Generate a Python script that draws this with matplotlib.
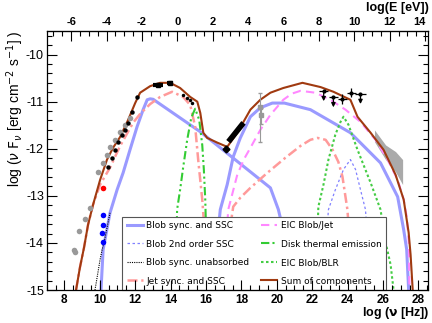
import numpy as np
import matplotlib
matplotlib.use('Agg')
import matplotlib.pyplot as plt
from matplotlib.ticker import MultipleLocator, FixedLocator, FuncFormatter

plt.rcParams['axes.unicode_minus'] = False

# model curves: log nu [Hz] vs log nuFnu [erg cm-2 s-1]
blob_sync_x = [10.07, 10.19, 10.58, 10.98, 11.32, 11.71, 12.11, 12.45, 12.68, 12.85, 13.02, 13.13, 15.68, 18.51, 19.64, 20.09, 20.49, 20.77]
blob_sync_y = [-15.0, -14.14, -13.36, -12.87, -12.51, -12.02, -11.53, -11.17, -10.96, -10.94, -10.95, -10.98, -11.64, -12.49, -12.83, -13.29, -13.93, -15.0]
blob_ssc_x = [16.36, 16.81, 17.20, 17.54, 17.94, 18.51, 19.07, 19.75, 20.43, 21.90, 24.16, 25.86, 26.83, 27.17, 27.34, 27.45]
blob_ssc_y = [-15.0, -13.29, -12.76, -12.17, -11.77, -11.32, -11.13, -11.03, -11.03, -11.17, -11.66, -12.30, -13.02, -13.72, -14.14, -15.0]
ssc2_x = [22.58, 22.92, 23.31, 23.77, 24.16, 24.45, 24.73, 25.01, 25.18, 25.30]
ssc2_y = [-15.0, -13.29, -12.87, -12.44, -12.23, -12.44, -12.87, -13.29, -14.14, -15.0]
unabs_x = [9.73, 9.90, 10.02, 10.13, 10.24, 10.58]
unabs_y = [-15.0, -14.62, -14.35, -14.15, -14.0, -13.36]
jet_sync_x = [8.66, 8.88, 9.11, 9.34, 9.62, 10.02, 10.58, 11.15, 11.88, 12.28, 12.85, 13.41, 14.09, 14.71, 15.11, 15.39, 15.56, 15.79, 15.96, 16.13]
jet_sync_y = [-15.0, -14.52, -14.10, -13.61, -13.19, -12.76, -12.40, -11.94, -11.45, -11.26, -11.05, -10.90, -10.79, -10.90, -11.07, -11.53, -12.23, -13.08, -13.93, -15.0]
jet_ssc_x = [16.81, 17.10, 17.54, 17.94, 18.51, 19.47, 20.49, 21.34, 21.90, 22.30, 22.76, 23.15, 23.48, 23.71, 23.99, 24.16, 24.27]
jet_ssc_y = [-15.0, -14.35, -13.23, -13.04, -12.83, -12.51, -12.19, -11.94, -11.81, -11.77, -11.81, -12.02, -12.28, -12.59, -13.29, -14.14, -15.0]
eic_jet_x = [16.93, 17.26, 17.77, 18.15, 18.51, 19.07, 19.64, 20.37, 20.85, 21.34, 22.18, 23.03, 23.88, 24.73, 25.58, 26.26, 26.83, 27.17, 27.34, 27.45, 27.50]
eic_jet_y = [-15.0, -13.29, -12.55, -12.22, -11.98, -11.60, -11.28, -10.96, -10.83, -10.77, -10.81, -10.96, -11.17, -11.43, -11.81, -12.23, -12.66, -13.08, -13.44, -13.93, -15.0]
disk_x = [14.26, 14.37, 14.54, 14.71, 14.94, 15.17, 15.39, 15.62, 15.79, 15.88, 15.96, 16.02, 16.07]
disk_y = [-15.0, -13.29, -12.87, -12.40, -11.81, -11.34, -11.15, -11.39, -11.92, -12.44, -13.08, -13.93, -15.0]
blr_x = [22.19, 22.35, 22.64, 22.92, 23.31, 23.60, 23.77, 24.05, 24.56, 25.30, 25.86, 26.15, 26.43, 26.60]
blr_y = [-15.0, -13.23, -12.76, -12.23, -11.70, -11.43, -11.32, -11.49, -12.02, -12.72, -13.29, -13.99, -14.46, -15.0]
sum_x = [8.66, 8.88, 9.11, 9.34, 9.62, 10.02, 10.41, 10.75, 11.15, 11.60, 12.0, 12.28, 12.85, 13.41, 13.98, 14.54, 15.11, 15.51, 15.68, 15.85, 16.07, 16.64, 17.20, 17.77, 18.51, 19.07, 19.64, 20.37, 21.45, 22.47, 23.20, 24.16, 24.56, 25.30, 26.03, 26.71, 27.17, 27.45, 27.56, 27.68]
sum_y = [-15.0, -14.52, -14.10, -13.61, -13.19, -12.66, -12.23, -11.98, -11.75, -11.39, -11.03, -10.81, -10.67, -10.60, -10.60, -10.71, -10.90, -11.00, -11.24, -11.66, -11.77, -11.87, -11.96, -11.66, -11.17, -10.96, -10.81, -10.71, -10.60, -10.69, -10.79, -10.96, -11.32, -11.66, -12.02, -12.55, -13.08, -13.78, -14.25, -15.0]

# data points
arch_x = [8.55, 8.60, 8.83, 9.17, 9.45, 9.90, 10.19, 10.41, 10.58, 10.87, 11.15, 11.44, 11.70]
arch_y = [-14.14, -14.20, -13.74, -13.50, -13.25, -12.49, -12.30, -12.13, -11.96, -11.81, -11.64, -11.49, -11.35]
ir_x = [10.47, 10.70, 10.87, 11.04, 11.26, 11.44, 11.60, 11.83, 12.11]
ir_y = [-12.38, -12.19, -12.02, -11.85, -11.70, -11.60, -11.45, -11.22, -10.90]
opt_x = [13.30, 13.95]
opt_y = [-10.64, -10.61]
opt_xerr = [0.28, 0.16]
uv_x = [14.71, 14.94, 15.11, 15.22]
uv_y = [-10.86, -10.92, -10.96, -11.03]
radio_red_x, radio_red_y = [10.19], [-12.83]
radio_blue_x = [10.19, 10.19, 10.13, 10.19]
radio_blue_y = [-13.40, -13.61, -13.78, -13.97]
xray_x = [17.27, 18.12]
xray_y = [-11.85, -11.45]
xray_pt_x, xray_pt_y = [17.15], [-12.0]
hx_x = [19.07, 19.12]
hx_y = [-11.11, -11.28]
hx_lo = [0.74, 0.2]
hx_hi = [0.30, 0.15]
bow_x = [25.52, 26.15, 26.71, 27.11]
bow_hi = [-11.60, -11.92, -12.06, -12.23]
bow_lo = [-11.85, -12.23, -12.49, -12.76]
gam_x = [22.65, 23.20, 23.71, 24.22, 24.73]
gam_y = [-10.77, -10.90, -10.94, -10.81, -10.83]
gam_xerr = [0.25, 0.25, 0.25, 0.25, 0.30]
gam_ul = [True, True, False, False, True]

# tick values
nu_ticks = [8, 10, 12, 14, 16, 18, 20, 22, 24, 26, 28]
e_ticks = [-6, -4, -2, 0, 2, 4, 6, 8, 10, 12, 14]
f_ticks = [-15, -14, -13, -12, -11, -10]

fig = plt.figure(figsize=(4.32, 3.23), dpi=100)
ax = fig.add_axes([0.108, 0.102, 0.883, 0.802])

blue = '#9a9aff'
c1, = ax.plot(blob_sync_x, blob_sync_y, color=blue, lw=2.2, label='Blob sync. and SSC')
ax.plot(blob_ssc_x, blob_ssc_y, color=blue, lw=2.2)
c2, = ax.plot(ssc2_x, ssc2_y, color='#8080ff', lw=0.9, ls=(0, (2, 2)), label='Blob 2nd order SSC')
c3, = ax.plot(unabs_x, unabs_y, color='black', lw=0.8, ls=(0, (1, 1)), label='Blob sync. unabsorbed')
c4, = ax.plot(jet_sync_x, jet_sync_y, color='#ff9a9a', lw=1.8, ls=(0, (4, 1.5, 1, 1.5)), label='Jet sync. and SSC')
ax.plot(jet_ssc_x, jet_ssc_y, color='#ff9a9a', lw=1.8, ls=(0, (4, 1.5, 1, 1.5)))
c5, = ax.plot(eic_jet_x, eic_jet_y, color='#ff88ff', lw=1.5, ls=(0, (4, 2.5)), label='EIC Blob/Jet')
c6, = ax.plot(disk_x, disk_y, color='#33cc33', lw=1.5, ls=(0, (4, 1.5, 1, 1.5, 1, 1.5)), label='Disk thermal emission')
c7, = ax.plot(blr_x, blr_y, color='#44cc44', lw=1.5, ls=(0, (1.2, 1.2)), label='EIC Blob/BLR')
c8, = ax.plot(sum_x, sum_y, color='#a03a10', lw=1.5, label='Sum of components')

# data
ax.fill_between(bow_x, bow_lo, bow_hi, color='#aaaaaa', lw=0)
ax.plot(arch_x, arch_y, 'o', color='#999999', ms=4, mec='none')
ax.errorbar(hx_x, hx_y, yerr=[hx_lo, hx_hi], fmt='s', color='#999999', ms=3.5, lw=0.8, capsize=1.5)
ax.plot(ir_x, ir_y, 'o', color='black', ms=3.2, mec='none')
ax.errorbar(opt_x, opt_y, xerr=opt_xerr, fmt='s', color='black', ms=3, lw=3)
ax.plot(uv_x, uv_y, 'o', color='black', ms=2.5, mec='none')
ax.plot(radio_red_x, radio_red_y, 'o', color='red', ms=4, mec='none')
ax.plot(radio_blue_x, radio_blue_y, 'o', color='blue', ms=4, mec='none')
ax.plot(xray_x, xray_y, color='black', lw=4, solid_capstyle='butt')
ax.plot(xray_pt_x, xray_pt_y, 'D', color='black', ms=3.5)
ax.errorbar(gam_x, gam_y, xerr=gam_xerr, fmt='o', color='black', ms=2, lw=0.9)
for gx, gy, ul in zip(gam_x, gam_y, gam_ul):
    if ul:
        ax.annotate('', xy=(gx, gy - 0.22), xytext=(gx, gy),
                    arrowprops=dict(arrowstyle='-|>', color='black', lw=0.9, mutation_scale=6,
                                    shrinkA=0, shrinkB=0))
    else:
        ax.errorbar([gx], [gy], yerr=0.1, fmt='none', ecolor='black', lw=0.9)

ax.set_xlim(7, 28.55)
ax.set_ylim(-15, -9.5)
ax.set_axisbelow(False)

ax.xaxis.set_major_locator(FixedLocator(nu_ticks))
ax.xaxis.set_minor_locator(MultipleLocator(0.5))
ax.yaxis.set_major_locator(FixedLocator(f_ticks))
ax.yaxis.set_minor_locator(MultipleLocator(0.2))
ax.yaxis.set_major_formatter(FuncFormatter(lambda v, p: '%d' % round(v)))
ax.xaxis.set_major_formatter(FuncFormatter(lambda v, p: '%d' % round(v)))
ax.tick_params(which='both', direction='in', right=True, top=False, width=0.8)
ax.tick_params(which='major', length=7)
ax.tick_params(which='minor', length=3.5)
ax.tick_params(axis='x', pad=3)
ax.tick_params(axis='y', pad=2)
for lab in ax.get_xticklabels():
    lab.set_fontfamily('Liberation Sans')
    lab.set_fontweight('bold')
    lab.set_fontsize(8.5)
for lab in ax.get_yticklabels():
    lab.set_fontfamily('Liberation Sans')
    lab.set_fontsize(9)

top = ax.secondary_xaxis('top', functions=(lambda x: x - 14.383, lambda x: x + 14.383))
top.xaxis.set_major_locator(FixedLocator(e_ticks))
top.xaxis.set_minor_locator(MultipleLocator(0.5))
top.xaxis.set_major_formatter(FuncFormatter(lambda v, p: '%d' % round(v)))
top.tick_params(which='both', direction='in', width=0.8, pad=3)
top.tick_params(which='major', length=7)
top.tick_params(which='minor', length=3.5)
fig.canvas.draw()
for tk in top.xaxis.get_major_ticks():
    for lab in (tk.label1, tk.label2):
        lab.set_fontfamily('Liberation Sans')
        lab.set_fontweight('bold')
        lab.set_fontsize(8)
        # keep the "14" at the right edge inside the canvas
        if lab.get_text() == '14':
            lab.set_horizontalalignment('right')

for s in ax.spines.values():
    s.set_linewidth(0.9)

fig.text(0.995, 0.031, r'log ($\mathbf{\nu}$ [Hz])', ha='right', va='center',
         fontsize=9, fontweight='bold', family='Liberation Sans')
fig.text(0.993, 0.975, 'log(E [eV])', ha='right', va='center',
         fontsize=9, fontweight='bold', family='Liberation Sans')
fig.text(0.035, 0.905, r'log ($\nu$ $\mathrm{F}_{\nu}$ [erg cm$^{-2}$ s$^{-1}$] )', rotation=90,
         ha='center', va='top', fontsize=10, family='Liberation Sans')

leg = ax.legend(handles=[c1, c2, c3, c4, c5, c6, c7, c8], ncol=2, loc='lower left',
                bbox_to_anchor=(0.1975, 0.0, 0.6925, 0.309), mode='expand', borderaxespad=0,
                labelspacing=1.05, handlelength=1.8, handletextpad=0.4,
                borderpad=0.5, fancybox=False, framealpha=1, edgecolor='#555555',
                prop={'family': 'DejaVu Sans', 'size': 6.5})
leg.get_frame().set_linewidth(0.8)
leg.set_zorder(2.4)

fig.savefig('out.png', dpi=100)
